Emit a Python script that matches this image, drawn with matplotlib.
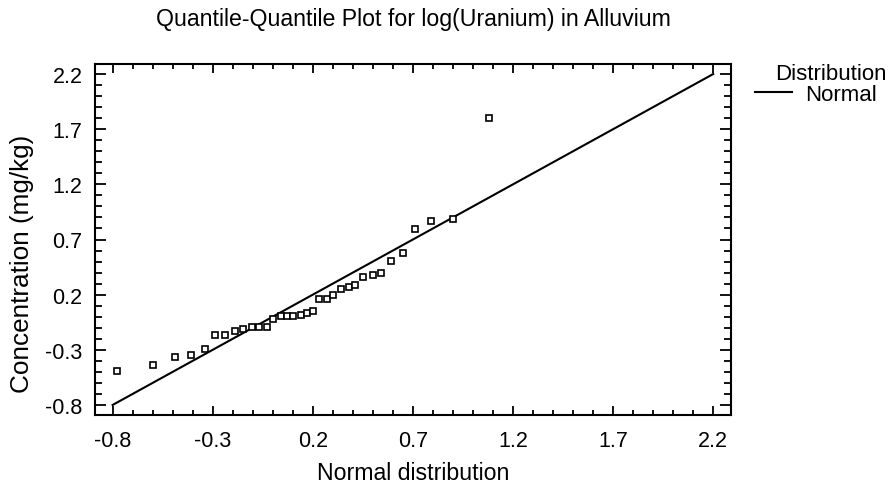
import matplotlib
matplotlib.use("Agg")
import matplotlib.pyplot as plt
from matplotlib.lines import Line2D
from matplotlib.ticker import FixedLocator, FormatStrFormatter
import numpy as np

plt.rcParams['font.family'] = ['Liberation Sans', 'DejaVu Sans']

# Data
normal_quantiles = [-0.777, -0.597, -0.489, -0.408, -0.339, -0.289, -0.239, -0.189,
                    -0.147, -0.106, -0.069, -0.029, 0.002, 0.042, 0.072, 0.102,
                    0.142, 0.172, 0.202, 0.232, 0.272, 0.302, 0.342, 0.382,
                    0.412, 0.452, 0.502, 0.542, 0.592, 0.652, 0.712, 0.792,
                    0.902, 1.082]
log_uranium = [-0.489, -0.435, -0.363, -0.345, -0.290, -0.164, -0.164, -0.128,
               -0.110, -0.092, -0.092, -0.092, -0.019, 0.002, 0.002, 0.002,
               0.017, 0.035, 0.053, 0.161, 0.161, 0.197, 0.251, 0.269,
               0.288, 0.360, 0.378, 0.396, 0.504, 0.577, 0.794, 0.866,
               0.884, 1.805]
ref_line_x = [-0.8, 2.2]
ref_line_y = [-0.8, 2.2]
tick_values = [-0.8, -0.3, 0.2, 0.7, 1.2, 1.7, 2.2]
legend_title = 'Distribution'
legend_label = 'Normal'

W, H = 895, 489
fig = plt.figure(figsize=(W / 100, H / 100), dpi=100)
ax = fig.add_axes([95 / W, 1 - 416 / H, (731 - 95) / W, (416 - 65) / H])

ax.plot(ref_line_x, ref_line_y, color='black', lw=1.5, label=legend_label)
ax.plot(normal_quantiles, log_uranium, linestyle='none', marker='s', ms=4.4,
        mfc='white', mec='black', mew=1.2)

ax.set_xlim(-0.888, 2.289)
ax.set_ylim(-0.891, 2.291)

minor = np.round(np.arange(-0.8, 2.25, 0.1), 2)
ax.xaxis.set_major_locator(FixedLocator(tick_values))
ax.yaxis.set_major_locator(FixedLocator(tick_values))
ax.xaxis.set_minor_locator(FixedLocator(minor))
ax.yaxis.set_minor_locator(FixedLocator(minor))
ax.xaxis.set_major_formatter(FormatStrFormatter('%.1f'))
ax.yaxis.set_major_formatter(FormatStrFormatter('%.1f'))

ax.tick_params(which='both', direction='in', top=True, right=True, labelsize=15.5, width=1.3)
ax.tick_params(axis='x', which='major', length=6.5, pad=10.5)
ax.tick_params(axis='x', which='minor', length=3.5)
ax.tick_params(axis='y', which='major', length=8, pad=9)
ax.tick_params(axis='y', which='minor', length=5)
for s in ax.spines.values():
    s.set_linewidth(1.5)

ax.set_title('Quantile-Quantile Plot for log(Uranium) in Alluvium', fontsize=16.7, pad=28)

ax.set_xlabel('Normal distribution', fontsize=16.7, va='baseline')
ax.xaxis.set_label_coords(413 / W, 1 - 480 / H, transform=fig.transFigure)
ax.set_ylabel('Concentration (mg/kg)', fontsize=18.8, va='baseline')
ax.yaxis.set_label_coords(29 / W, 1 - 264 / H, transform=fig.transFigure)

# Legend (drawn at the reference's position)
fig.text(831 / W, 1 - 80 / H, legend_title, ha='center', va='baseline', fontsize=16)
fig.add_artist(Line2D([755 / W, 792 / W], [1 - 93 / H, 1 - 93 / H],
                      transform=fig.transFigure, color='black', lw=1.5))
fig.text(805 / W, 1 - 101 / H, legend_label, ha='left', va='baseline', fontsize=16)

fig.savefig('out.png', dpi=100)
